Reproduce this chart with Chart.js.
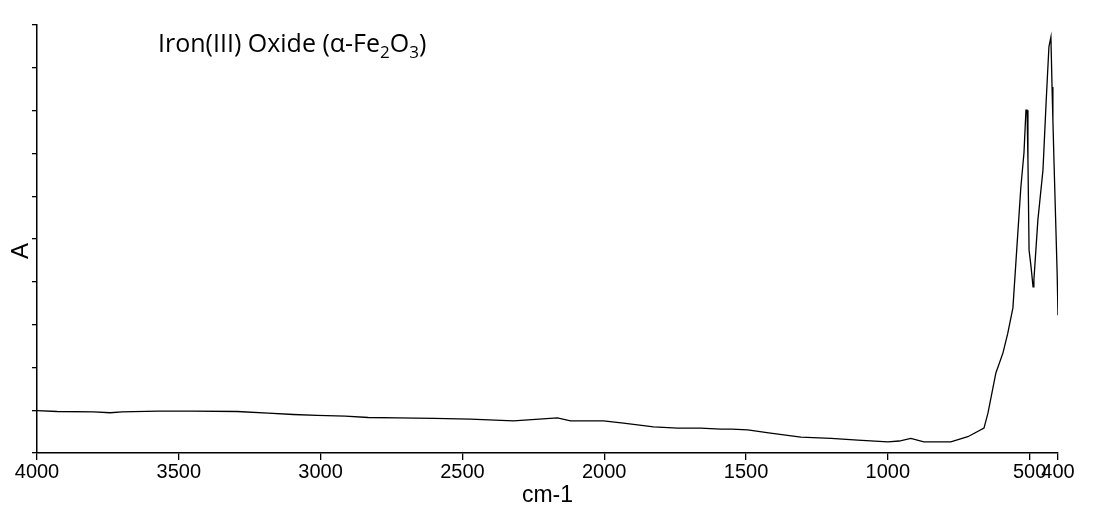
<!DOCTYPE html>
<html lang="en">
<head>
    <meta charset="UTF-8">
    <title>Iron(III) Oxide IR spectrum</title>
    <script src="https://cdn.jsdelivr.net/npm/chart.js"></script>
    <style>
        body { margin: 0; background: #fff; }
    </style>
</head>
<body>
    <canvas id="irChart" width="1094" height="519"></canvas>

    <script>
        // wavenumber (cm-1) and absorbance
        const wavenumbers = [4000, 3929, 3800, 3742, 3700, 3573, 3450, 3294, 3185, 3096,
            3012, 2913, 2832, 2729, 2600, 2472, 2320, 2165, 2119, 2002,
            1932, 1826, 1741, 1660, 1589, 1550, 1494, 1420, 1307, 1200,
            1106, 1000, 960, 919, 873, 778, 718, 661, 647, 619,
            594, 577, 559, 548, 531, 520, 513, 509, 506, 502,
            495, 488, 485, 471, 453, 442, 432, 425, 421, 418,
            414, 407, 403, 400];
        const absorbance = [0.099, 0.097, 0.096, 0.094, 0.096, 0.098, 0.098, 0.097, 0.093, 0.090,
            0.088, 0.086, 0.083, 0.082, 0.081, 0.079, 0.075, 0.082, 0.075, 0.075,
            0.070, 0.061, 0.058, 0.058, 0.056, 0.056, 0.054, 0.047, 0.037, 0.034,
            0.030, 0.026, 0.028, 0.034, 0.026, 0.026, 0.038, 0.058, 0.093, 0.187,
            0.234, 0.280, 0.339, 0.450, 0.621, 0.701, 0.801, 0.801, 0.685, 0.474,
            0.435, 0.388, 0.404, 0.544, 0.661, 0.818, 0.949, 0.972, 0.855, 0.778,
            0.678, 0.514, 0.420, 0.322];
        const xTickValues = [4000, 3500, 3000, 2500, 2000, 1500, 1000, 500, 400];

        const points = wavenumbers.map((w, i) => ({ x: w, y: absorbance[i] }));

        // title with subscripts + rotated y label
        const textPlugin = {
            id: 'textPlugin',
            afterDraw(chart) {
                const ctx = chart.ctx;
                ctx.save();
                ctx.fillStyle = '#000';
                ctx.textBaseline = 'alphabetic';
                const big = '25px "Open Sans"';
                const small = '17px "Open Sans"';
                let x = 158;
                const y = 52;
                const parts = [
                    ['Iron(III) Oxide (\u03b1-Fe', big, 0],
                    ['2', small, 6],
                    ['O', big, 0],
                    ['3', small, 6],
                    [')', big, 0]
                ];
                parts.forEach(([t, f, dy]) => {
                    ctx.font = f;
                    ctx.fillText(t, x, y + dy);
                    x += ctx.measureText(t).width;
                });

                ctx.translate(21, 251);
                ctx.rotate(-Math.PI / 2);
                ctx.font = '24px "Liberation Sans"';
                ctx.textAlign = 'center';
                ctx.textBaseline = 'middle';
                ctx.fillText('A', 0, 0);
                ctx.restore();
            }
        };

        const ctx = document.getElementById('irChart').getContext('2d');
        new Chart(ctx, {
            type: 'line',
            data: {
                datasets: [{
                    data: points,
                    borderColor: '#000',
                    borderWidth: 1.3,
                    pointRadius: 0,
                    tension: 0,
                    fill: false
                }]
            },
            options: {
                responsive: false,
                animation: false,
                layout: { padding: { top: 25, right: 36, left: 0, bottom: 0 } },
                plugins: {
                    legend: { display: false },
                    tooltip: { enabled: false }
                },
                scales: {
                    x: {
                        type: 'linear',
                        reverse: true,
                        min: 400,
                        max: 4000,
                        afterBuildTicks: scale => {
                            scale.ticks = xTickValues.map(v => ({ value: v }));
                        },
                        afterFit: scale => { scale.height = 66; },
                        ticks: {
                            autoSkip: false,
                            maxRotation: 0,
                            padding: 0,
                            color: '#000',
                            font: { family: '"Liberation Sans"', size: 20 },
                            callback: v => String(v)
                        },
                        grid: {
                            drawOnChartArea: false,
                            tickLength: 7,
                            color: '#000',
                            lineWidth: 1.3
                        },
                        border: { color: '#000', width: 1.5 },
                        title: {
                            display: true,
                            text: 'cm-1',
                            color: '#000',
                            font: { family: '"Liberation Sans"', size: 23 },
                            padding: { top: 0, bottom: 10 }
                        }
                    },
                    y: {
                        min: 0,
                        max: 1,
                        afterFit: scale => { scale.width = 37; },
                        ticks: { display: false, stepSize: 0.1 },
                        grid: {
                            drawOnChartArea: false,
                            tickLength: 5,
                            color: '#000',
                            lineWidth: 1.3
                        },
                        border: { color: '#000', width: 1.5 }
                    }
                }
            },
            plugins: [textPlugin]
        });
    </script>
</body>
</html>
